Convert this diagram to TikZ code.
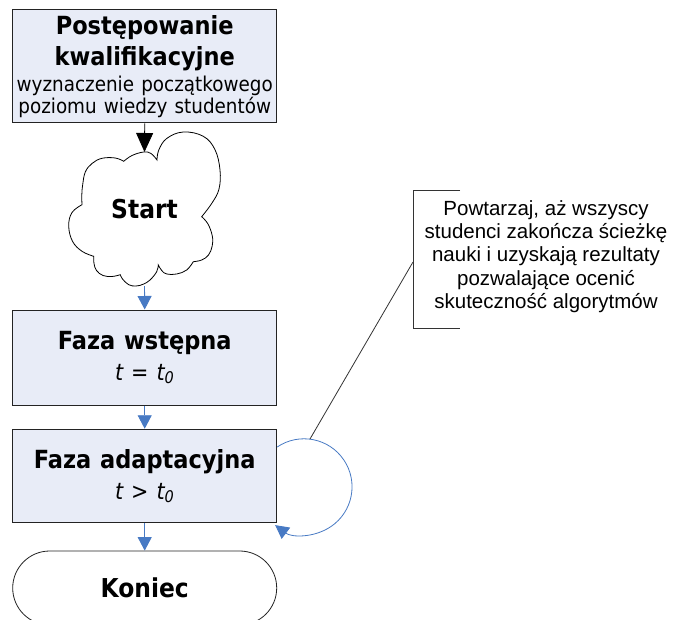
\documentclass[tikz,border=0pt]{standalone}
\usepackage{fontspec}
\setmainfont{DejaVu Sans}[FakeStretch=0.9]
\newfontfamily\notefont{Liberation Sans}
\usetikzlibrary{arrows.meta}
\setlength{\parindent}{0pt}
\definecolor{flowblue}{RGB}{72,122,196}
\definecolor{boxfill}{RGB}{232,236,247}
\definecolor{boxline}{RGB}{35,35,35}
% size, baseline skip and a slightly roomier word space for the box labels
\newcommand\fsz[2]{\fontsize{#1}{#2}\selectfont\spaceskip=0.35em\relax}
\newcommand\nsz[2]{\fontsize{#1}{#2}\selectfont}
\begin{document}
\begin{tikzpicture}[x=1pt,y=-1pt,
  phase/.style={draw=boxline, fill=boxfill, line width=1pt, minimum width=264pt,
    text width=262pt, inner sep=0pt, align=center},
  terminal/.style={draw=boxline, fill=white, line width=0.8pt, minimum width=264pt,
    minimum height=74pt, rounded corners=37pt, inner sep=0pt},
  flow/.style={draw=flowblue, line width=0.9pt, -{Triangle[width=14pt,length=13.5pt]}},
  feed/.style={draw=black, line width=0.8pt, -{Triangle[width=17pt,length=19pt]}},
  cloudline/.style={draw=black, line width=0.8pt, fill=white, line join=miter},
  puff/.style={smooth, tension=0.65},
  noteline/.style={draw=black!80, line width=0.8pt}
]
\useasboundingbox (0,0) rectangle (685,620);
\fill[white] (0,0) rectangle (685,620);
\begin{scope}
\clip (0,0) rectangle (685,620);

% qualification step
\node[phase, minimum height=113pt] (qual) at (144.7,66.5)
  {\fsz{25}{31}\bfseries Postępowanie\par
   kwalifikacyjne\par
   \fsz{20.4}{26}\mdseries wyznaczenie początkowego\par
   \fsz{20.4}{21.3}poziomu wiedzy studentów\par};

% start cloud: the node holds the label, the outline is a ring of puffs
\node[minimum width=153pt, minimum height=153pt, inner sep=0pt] (start) at (144.5,209.5) {};
\draw[cloudline]
  plot[puff] coordinates {(123.7,161.3) (132,155.5) (143.7,152) (151,153.5) (157,160)}
  -- plot[puff] coordinates {(157,160) (158.8,150) (166.7,138.5) (183.3,132) (203.3,136.3)
       (215,149.7) (220,170) (219,189) (212,203) (201.7,216.7)}
  -- plot[puff] coordinates {(201.7,216.7) (208,224) (212.3,236) (212.2,246) (208.5,255)
       (201.7,260) (193.3,261.7)}
  -- plot[puff] coordinates {(193.3,261.7) (186.7,270) (176.7,274) (166.7,274) (161.7,270.5)
       (158.3,265)}
  -- plot[puff] coordinates {(158.3,265) (156.7,271.7) (150,280) (143.3,284.2) (136,286)
       (128.7,284.7) (122.5,279) (120.3,274.7)}
  -- plot[puff] coordinates {(120.3,274.7) (112,276.5) (103,275.5) (96.5,270.5) (94,263.5)
       (93.7,256.3)}
  -- plot[puff] coordinates {(93.7,256.3) (82,251.3) (72.5,241.3) (68.7,226) (72,212.5)
       (82,204.7)}
  -- plot[puff] coordinates {(82,204.7) (81.8,195) (82.7,184.7) (85.3,172) (92,163.5)
       (102,158.3) (115.3,158) (123.7,161.3)}
  -- cycle;
\node[inner sep=0pt] (startlabel) at (start.center) {\fsz{26}{30}\bfseries Start};
\coordinate (dip) at (144.5,152);

% phases
\node[phase, minimum height=95pt] (pre) at (144.7,357.5)
  {\fsz{25}{31}\bfseries Faza wstępna\par
   \fsz{23}{31}\mdseries\itshape t = t\textsubscript{0}\par};
\node[phase, minimum height=93.5pt] (adapt) at (144.7,476)
  {\fsz{25}{31}\bfseries Faza adaptacyjna\par
   \fsz{23}{31}\mdseries\itshape t > t\textsubscript{0}\par};
\node[terminal] (end) at (144.7,588) {\fsz{26}{30}\bfseries Koniec};

% connectors
\draw[feed] (qual.south) -- (dip);
\draw[flow] (start.south) -- (pre.north);
\draw[flow] (pre.south) -- (adapt.north);
\draw[flow] (adapt.south) -- (end.north);
\draw[flow, line width=0.8pt] ([yshift=29pt]adapt.east) arc[start angle=124, end angle=-127, radius=48pt];

% annotation
\node[inner sep=0pt, align=center, font={\notefont\nsz{20.5}{23.3}}] (note) at (546,256.4)
  {Powtarzaj, aż wszyscy\\
   studenci zakończa ścieżkę\\
   nauki i uzyskają rezultaty\\
   pozwalające ocenić\\
   skuteczność algorytmów};
\coordinate (brtop) at (460,190);
\coordinate (brbot) at (460,328);
\coordinate (leader) at (413,262);
\coordinate (looptop) at (310,439);
\draw[noteline] (brtop) -- (413,190) -- (413,328) -- (brbot);
\draw[noteline] (leader) -- (looptop);
\end{scope}
\end{tikzpicture}
\end{document}
